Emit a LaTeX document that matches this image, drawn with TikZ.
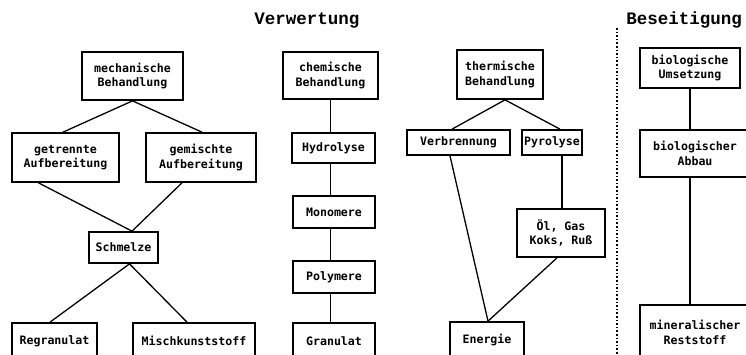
\documentclass[tikz,border=0pt]{standalone}
\usepackage{fontspec}
\newfontfamily\boxfont{DejaVu Sans Mono}
\newfontfamily\titlefont{Liberation Mono}
\begin{document}
\begin{tikzpicture}[x=1pt,y=-1pt,
  box/.style={draw, line width=1.7pt, inner sep=0pt, align=center,
    font=\boxfont\bfseries\fontsize{11.6}{14.5}\selectfont},
  conn/.style={line width=1.3pt},
  ttl/.style={font=\titlefont\bfseries\fontsize{17.5}{20}\selectfont}]
\useasboundingbox (0,0) rectangle (746,354);
\clip (0,0) rectangle (746,354);
\fill[white] (0,0) rectangle (746,354);
% titles
\node[ttl] (verw) at (307,21) {Verwertung};
\node[ttl] (bes) at (684,20) {Beseitigung};
\coordinate (dtop) at (617,28);
\coordinate (dbot) at (617,356);
\draw[line width=1.6pt, dash pattern=on 1.6pt off 2pt] (dtop) -- (dbot);
% mechanical
\node[box, minimum width=101pt, minimum height=48pt] (mech) at (132.5,76) {mechanische\\Behandlung};
\node[box, minimum width=107pt, minimum height=49pt] (getr) at (65.5,157.5) {getrennte\\Aufbereitung};
\node[box, minimum width=110pt, minimum height=49pt] (gem) at (201,157.5) {gemischte\\Aufbereitung};
\node[box, minimum width=69pt, minimum height=31pt] (schm) at (123.5,247.5) {Schmelze};
\node[box, minimum width=85pt, minimum height=36pt] (regr) at (54.5,341) {Regranulat};
\node[box, minimum width=122pt, minimum height=36pt] (misch) at (194,341) {Mischkunststoff};
\draw[conn] (mech.south) -- ([xshift=-2.5pt]getr.north);
\draw[conn] (mech.south) -- ([xshift=1pt]gem.north);
\draw[conn] ([xshift=-27pt]getr.south) -- ([xshift=8.5pt]schm.north);
\draw[conn] ([xshift=-19pt]gem.south) -- ([xshift=8.5pt]schm.north);
\draw[conn] ([xshift=6pt]schm.south) -- ([xshift=-4.5pt]regr.north);
\draw[conn] ([xshift=6pt]schm.south) -- ([xshift=-7pt]misch.north);
% chemical
\node[box, minimum width=95pt, minimum height=47pt] (chem) at (330.5,75.5) {chemische\\Behandlung};
\node[box, minimum width=83pt, minimum height=30pt] (hydr) at (333.5,148) {Hydrolyse};
\node[box, minimum width=82pt, minimum height=32pt] (mono) at (334,212) {Monomere};
\node[box, minimum width=82pt, minimum height=32pt] (poly) at (334,277) {Polymere};
\node[box, minimum width=82pt, minimum height=36pt] (gran) at (334,341) {Granulat};
\draw[conn] (chem.south) -- (chem.south |- hydr.north);
\draw[conn] (hydr.south -| chem.south) -- (chem.south |- mono.north);
\draw[conn] (mono.south -| chem.south) -- (chem.south |- poly.north);
\draw[conn] (poly.south -| chem.south) -- (chem.south |- gran.north);
% thermal
\node[box, minimum width=86pt, minimum height=49pt] (therm) at (500,74.5) {thermische\\Behandlung};
\node[box, minimum width=103pt, minimum height=25pt] (verb) at (458.5,142.5) {Verbrennung};
\node[box, minimum width=60pt, minimum height=25pt] (pyro) at (552,142.5) {Pyrolyse};
\node[box, minimum width=88pt, minimum height=48pt] (oel) at (561,233) {Öl, Gas\\Koks, Ruß};
\node[box, minimum width=74pt, minimum height=36pt] (ener) at (487,340) {Energie};
\draw[conn] ([xshift=5pt]therm.south) -- ([xshift=-6.5pt]verb.north);
\draw[conn] ([xshift=5pt]therm.south) -- ([xshift=8pt]pyro.north);
\draw[conn] ([xshift=10pt]pyro.south) -- ([xshift=1pt]oel.north);
\draw[conn] ([xshift=-8.5pt]verb.south) -- ([xshift=1pt]ener.north);
\draw[conn] ([xshift=-4pt]oel.south) -- ([xshift=1pt]ener.north);
% disposal
\node[box, minimum width=100pt, minimum height=40pt] (bumu) at (690,68) {biologische\\Umsetzung};
\node[box, minimum width=110pt, minimum height=47pt, text width=106pt] (babb) at (695,153.5) {biologischer\\Abbau};
\node[box, minimum width=110pt, minimum height=55pt, text width=106pt] (mine) at (695,332.5) {mineralischer\\Reststoff};
\draw[conn] (bumu.south) -- (bumu.south |- babb.north);
\draw[conn] (babb.south -| bumu.south) -- (bumu.south |- mine.north);
\end{tikzpicture}
\end{document}
